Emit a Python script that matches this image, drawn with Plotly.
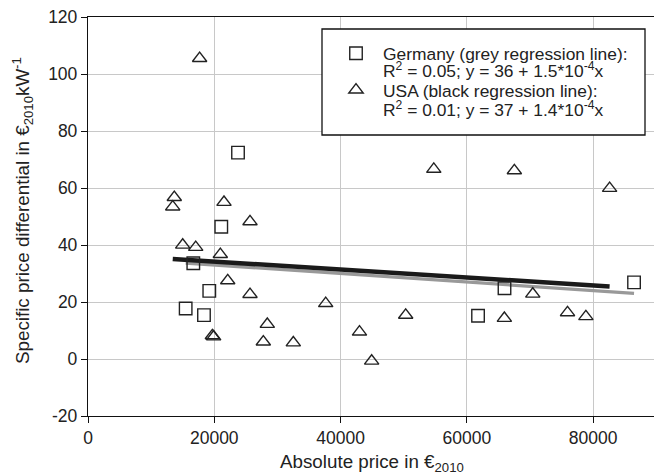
import plotly.graph_objects as go

# Germany (squares)
germany_x = [23760, 21110, 16680, 19210, 15470, 18370, 61780, 65970, 86490]
germany_y = [72.4, 46.4, 33.6, 23.9, 17.7, 15.4, 15.2, 24.8, 26.9]

# USA (triangles)
usa_x = [17680, 13670, 13420, 21540, 25660, 15000, 17060, 20960, 22130, 25660,
         37650, 28400, 19700, 19900, 27770, 32520, 43000, 50320, 44930, 65950,
         75950, 78860, 70450, 54770, 67530, 82620]
usa_y = [105.5, 56.7, 53.4, 55.0, 48.2, 40.0, 39.2, 36.7, 27.5, 22.7,
         19.5, 12.2, 8.2, 7.8, 6.0, 5.7, 9.5, 15.4, -0.7, 14.3,
         16.3, 14.9, 22.8, 66.6, 66.1, 59.9]

# Regression coefficients (intercept, slope)
germany_reg = [36, -1.5e-4]
usa_reg = [37, -1.4e-4]

legend_titles = ["Germany (grey regression line):", "USA (black regression line):"]
legend_stats = ["R<sup>2</sup> = 0.05; y = 36 + 1.5*10<sup>-4</sup>x",
                "R<sup>2</sup> = 0.01; y = 37 + 1.4*10<sup>-4</sup>x"]

x_ticks = [0, 20000, 40000, 60000, 80000]
y_ticks = [-20, 0, 20, 40, 60, 80, 100, 120]

FONT = "Liberation Sans, Arial, sans-serif"
TXT = "#222222"

def reg_line(xs, coef):
    x0, x1 = min(xs), max(xs)
    return [x0, x1], [coef[0] + coef[1] * x0, coef[0] + coef[1] * x1]

fig = go.Figure()

gx, gy = reg_line(germany_x, germany_reg)
ux, uy = reg_line(usa_x, usa_reg)

fig.add_trace(go.Scatter(x=gx, y=gy, mode="lines", line=dict(color="#999999", width=3.3),
                         showlegend=False, hoverinfo="skip"))
fig.add_trace(go.Scatter(x=ux, y=uy, mode="lines", line=dict(color="#1a1a1a", width=4.5),
                         showlegend=False, hoverinfo="skip"))

fig.add_trace(go.Scatter(
    x=germany_x, y=germany_y, mode="markers", legendgroup="g",
    marker=dict(symbol="square-open", size=12.5, color="#222222", line=dict(width=1.4, color="#222222")),
    name=legend_titles[0]))
fig.add_trace(go.Scatter(
    x=usa_x, y=usa_y, mode="markers", legendgroup="u",
    marker=dict(symbol="triangle-up-open", size=12.5, color="#222222", line=dict(width=1.4, color="#222222")),
    name=legend_titles[1]))

L, R, T, B = 88, 0, 17, 59
W, H = 654, 475
pw = W - L - R
ph = H - T - B

def px_x(p):
    return (p - L) / pw

def px_y(p):
    return (H - B - p) / ph

fig.add_shape(type="rect", xref="paper", yref="paper",
              x0=px_x(322), x1=px_x(645), y0=px_y(135), y1=px_y(29),
              line=dict(color="#111111", width=1.3), fillcolor="white", layer="above")

fig.update_layout(
    width=W, height=H,
    margin=dict(l=L, r=R, t=T, b=B),
    paper_bgcolor="white", plot_bgcolor="white",
    font=dict(family=FONT, size=17.5, color=TXT),
    showlegend=True,
    legend=dict(x=px_x(329), y=px_y(35.5), xanchor="left", yanchor="top",
                bgcolor="rgba(0,0,0,0)", borderwidth=0,
                font=dict(family=FONT, size=17.4, color=TXT),
                traceorder="grouped", itemwidth=44, tracegroupgap=11),
    xaxis=dict(range=[0, 89650], tickvals=x_ticks, ticktext=[str(v) for v in x_ticks],
               showgrid=True, gridcolor="#c8c8c8", gridwidth=1.3,
               showline=True, linecolor="#111111", linewidth=1.3, mirror=True,
               ticks="outside", ticklen=6, tickcolor="#111111", tickwidth=1.3,
               zeroline=False, tickfont=dict(size=17.5, color=TXT)),
    yaxis=dict(range=[-20, 120], tickvals=y_ticks, ticktext=[str(v) for v in y_ticks],
               showgrid=True, gridcolor="#c8c8c8", gridwidth=1.3,
               showline=True, linecolor="#111111", linewidth=1.3,
               ticks="outside", ticklen=6, tickcolor="#111111", tickwidth=1.3,
               zeroline=False, tickfont=dict(size=17.5, color=TXT)),
)

for txt, ypx in zip(legend_stats, [70, 108.5]):
    fig.add_annotation(xref="paper", yref="paper", x=px_x(381), y=px_y(ypx),
                       text=txt, showarrow=False, align="left",
                       font=dict(family=FONT, size=17.4, color=TXT),
                       xanchor="left", yanchor="middle")

fig.add_annotation(xref="paper", yref="paper", x=px_x(372), y=px_y(463),
                   text="Absolute price in €<sub>2010</sub>", showarrow=False,
                   font=dict(family=FONT, size=18.8, color=TXT), xanchor="center", yanchor="middle")
fig.add_annotation(xref="paper", yref="paper", x=px_x(22), y=px_y(211),
                   text="Specific price differential in €<sub>2010</sub>kW<sup>-1</sup>", showarrow=False,
                   textangle=-90, font=dict(family=FONT, size=18.8, color=TXT),
                   xanchor="center", yanchor="middle")

fig.write_html("out.html")
